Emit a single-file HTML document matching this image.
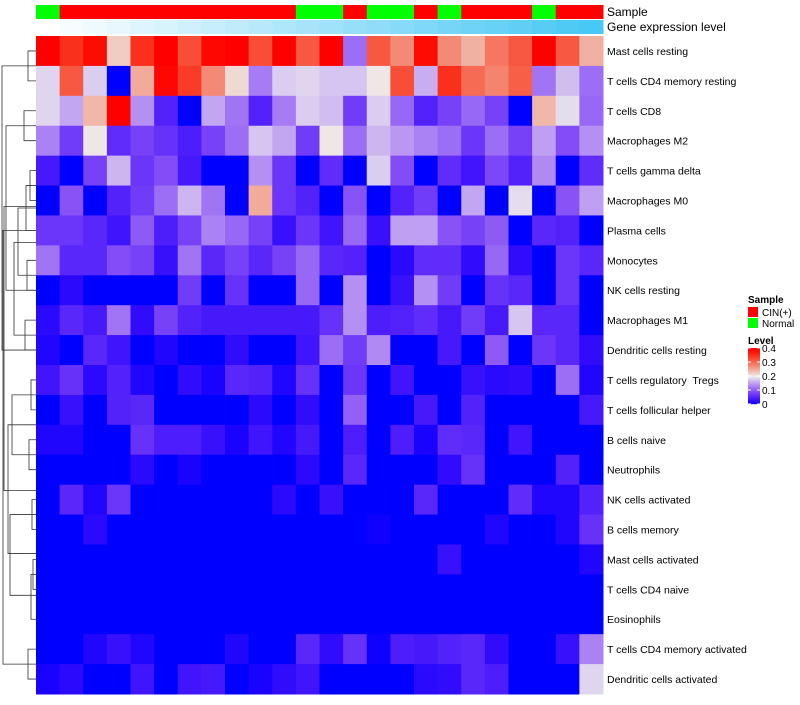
<!DOCTYPE html>
<html><head><meta charset="utf-8"><style>
body{margin:0;background:#fff;}
svg text{font-family:"Liberation Sans",sans-serif;white-space:pre;}
</style></head><body>
<svg id="c" width="800" height="700" xmlns="http://www.w3.org/2000/svg"></svg>
<script>
const rowNames=["Mast cells resting","T cells CD4 memory resting","T cells CD8","Macrophages M2","T cells gamma delta","Macrophages M0","Plasma cells","Monocytes","NK cells resting","Macrophages M1","Dendritic cells resting","T cells regulatory  Tregs","T cells follicular helper","B cells naive","Neutrophils","NK cells activated","B cells memory","Mast cells activated","T cells CD4 naive","Eosinophils","T cells CD4 memory activated","Dendritic cells activated"];
const sampleGroups=["N","C","C","C","C","C","C","C","C","C","C","N","N","C","N","N","C","N","C","C","C","N","C","C"];
// values in units of 0.05 (value = unit*0.05)
const r0=[8,7,7.7,4.5,7,8,6.5,7.8,8,6.5,8,6.3,8,2.3,6.3,5.5,7.7,5.5,4.9,5.8,6.3,8,6.3,4.9];
const r1=[3.7,6.3,3.6,0,5,7.8,6.8,5.5,4.3,2.5,3.6,3.7,3.5,3.5,4.1,6.5,3.2,7,6,5.6,6.2,2.4,3.4,2.3];
const r2=[3.7,3.1,4.8,8,2.8,1,0,3.1,2.4,1,2.5,3.6,3.4,1.5,3.6,2.2,1,1.6,2.2,1.6,0,4.8,3.8,2.2];
const r3=[2.6,1.5,4.1,1.2,1.6,1.3,0.9,1.6,2.3,3.5,3.1,1.5,4.1,2.3,3.3,2.9,2.6,2.3,1.4,2.3,1.6,3,1.8,2.8];
const r4=[0.8,0,1.6,3.3,1.4,1.8,0.8,0,0,2.8,1.4,0,1.2,0,3.6,1.8,0,1.2,0.7,1.7,1,2.7,0,1.2];
const r5=[0,1.9,0,1,1.5,2.3,3.3,2.4,0,5,1.4,1,0,1.9,0,1,1.5,0,3.1,0,3.8,0,1.9,3];
const r6=[1.4,1.4,1.1,0.7,2,0.9,1.6,2.6,2.2,1.6,0.6,1.4,0.7,2.2,0.6,3,3,1.9,1.6,2,0,1.1,1,0];
const r7=[2.4,1.1,1.1,1.8,1.6,0.6,2.4,1.1,1.6,1.1,1.6,2.2,1.1,1.0,0,0.4,1.2,1.2,0.5,2.2,0.5,0,1.4,1.1];
const r8=[0,0.4,0,0,0,0,1.5,0,1.3,0,0,2.2,0,2.8,0,0.6,2.8,1.5,0,1.3,1.1,0,1.4,0];
const r9=[0.4,1.1,0.8,2.4,0.5,1.6,1.0,0.8,0.8,0.8,0.8,0.8,1.3,2.8,0.9,1.0,1.2,0.8,1.5,0.8,3.5,1.1,1.1,0];
const r10=[0.3,0,1.1,0.7,0,0.3,0,0,0.5,0,0,0.7,2.3,1.5,2.7,0,0,0.8,0,2,0,1.4,1.1,0.5];
const r11=[0.7,1.3,0.4,1,0.3,0,0.5,0.2,1.1,1,0.3,1.3,0,1.4,0,0.7,0,0,0.6,0.4,0.5,0,2.3,0.3];
const r12=[0,0.6,0,1,1.1,0,0,0,0,0.4,0,0.5,0,2.1,0,0,0.8,0,1,0,0,0,0,0.8];
const r13=[0.3,0.3,0,0,1.3,0.9,0.9,0.6,0.2,0.7,0.3,0.8,0,0.9,0,0.9,0.2,1.2,1.1,0,0.7,0,0,0];
const r14=[0,0,0,0,0.4,0,0.2,0,0,0,0,0.4,0,1.1,0,0,0,0.5,1.3,0,0,0,1,0];
const r15=[0,1.1,0.3,1.4,0,0,0,0,0,0,0.4,0,0.6,0,0,0,1.1,0,0,0,1.2,0.3,0.3,1.0];
const r16=[0,0,0.4,0,0,0,0,0,0,0,0,0,0,0,0.1,0,0,0,0,0.3,0,0,0.3,1.3];
const r17=[0,0,0,0,0,0,0,0,0,0,0,0,0,0,0,0,0,0.6,0,0,0,0,0,0.3];
const r18=[0,0,0,0,0,0,0,0,0,0,0,0,0,0,0,0,0,0,0,0,0,0,0,0];
const r19=[0,0,0,0,0,0,0,0,0,0,0,0,0,0,0,0,0,0,0,0,0,0,0,0];
const r20=[0,0,0.3,0.6,0.3,0,0,0,0.3,0,0,1.1,0.5,1.3,0.1,0.9,0.8,1,1.1,0.5,0,0,0.6,2.6];
const r21=[0.2,0.4,0,0,0.7,0,0.7,0.8,0,0.2,0.5,0.7,0,0,0,0,0.4,0.5,1.1,0.9,0,0,0,3.7];
const rows=[r0,r1,r2,r3,r4,r5,r6,r7,r8,r9,r10,r11,r12,r13,r14,r15,r16,r17,r18,r19,r20,r21];
const levelTicks=[0,0.1,0.2,0.3,0.4];

const NS="http://www.w3.org/2000/svg";
const svg=document.getElementById('c');
const X0=36,X1=603,Y0=36,Y1=694;
const nC=r0.length,nR=rows.length;
const cw=(X1-X0)/nC,rh=(Y1-Y0)/nR;
const xs=i=>X0+i*cw, ys=j=>Y0+j*rh;
function el(t,a,p){const e=document.createElementNS(NS,t);for(const k in a)e.setAttribute(k,a[k]);(p||svg).appendChild(e);return e;}
function col(v){
  let t=Math.max(0,Math.min(1,v/0.4));
  let r,g,b;
  if(t<0.5){const s=t/0.5;r=255*Math.pow(s,0.75)*0.93;g=238*Math.pow(s,1.4);b=255-17*s;}
  else{const s=(t-0.5)/0.5;r=238+17*s;g=238*Math.pow(1-s,1.15);b=238*Math.pow(1-s,1.5);}
  return `rgb(${r|0},${g|0},${b|0})`;
}
// annotations
for(let i=0;i<nC;i++){
  const a=el('rect',{x:xs(i),y:5,width:cw+0.5,height:14,fill:sampleGroups[i]=="C"?"#FF0000":"#00FF00"});
  
  
  const f=i/(nC-1);
  const g=el('rect',{x:xs(i),y:20,width:cw+0.5,height:14,fill:`rgb(${(255-183*f)|0},${(255-55*f)|0},${(255-10*f)|0})`});
  
  
}
let t=el('text',{x:607,y:16,'font-size':12});t.textContent="Sample";

t=el('text',{x:607,y:31,'font-size':12});t.textContent="Gene expression level";

// cells
for(let j=0;j<nR;j++){
  for(let i=0;i<nC;i++){
    const c=el('rect',{x:xs(i),y:ys(j),width:cw+0.5,height:rh+0.5,fill:col(rows[j][i]*0.05)});
    
    
  }
  const l=el('text',{x:607,y:ys(j)+rh/2+4,'font-size':10.5,fill:'#000'});
  l.textContent=rowNames[j];
  
  
}
// dendrogram (approximate)
const dg=el('g',{stroke:'#333','stroke-width':0.8,fill:'none'});

const cy=j=>ys(j)+rh/2;
const d=[
 [28,cy(0),cy(1)],[24,cy(2),cy(3)],[30,cy(4),cy(5)],[26,cy(4.5),cy(6)],[27,cy(7),cy(8)],[25,cy(9),cy(10)],
 [31,cy(11),cy(12)],[29,cy(13),cy(14)],[32,cy(15),cy(16)],[33,cy(17),cy(18)],[31,cy(17.5),cy(19)],[28,cy(20),cy(21)],
 [18,cy(5.25),cy(7.5)],[14,cy(6.4),cy(9.5)],[12,cy(11.5),cy(13.5)],[10,cy(15.5),cy(18.2)],[8,cy(12.5),cy(16.8)],[6,cy(2.5),cy(8)],[4,cy(5.2),cy(14.7)],[2,cy(0.5),cy(10)],[3,cy(6),cy(20.5)]
];
d.forEach(([x,a,b])=>{el('path',{d:`M36 ${a}H${x}V${b}H36`},dg);});
// legend
t=el('text',{x:748,y:303,'font-size':10,'font-weight':'bold'});t.textContent="Sample";

[["#FF0000","CIN(+)",307],["#00FF00","Normal",318]].forEach(([c,n,y])=>{
  const r=el('rect',{x:748,y:y,width:10,height:10,fill:c});
  
  const tx=el('text',{x:762,y:y+9,'font-size':10});tx.textContent=n;
  
});
t=el('text',{x:748,y:344,'font-size':10,'font-weight':'bold'});t.textContent="Level";

const by=v=>404-v/0.4*56;
for(let k=0;k<56;k++){
  const r=el('rect',{x:748,y:348+k,width:12,height:1.2,fill:col(0.4*(1-k/56))});
  
}
levelTicks.forEach(v=>{
  el('line',{x1:748,x2:751,y1:by(v),y2:by(v),stroke:'#fff'});
  el('line',{x1:757,x2:760,y1:by(v),y2:by(v),stroke:'#fff'});
  const tx=el('text',{x:762,y:by(v)+4,'font-size':10});tx.textContent=v;
  
});
</script>
</body></html>
